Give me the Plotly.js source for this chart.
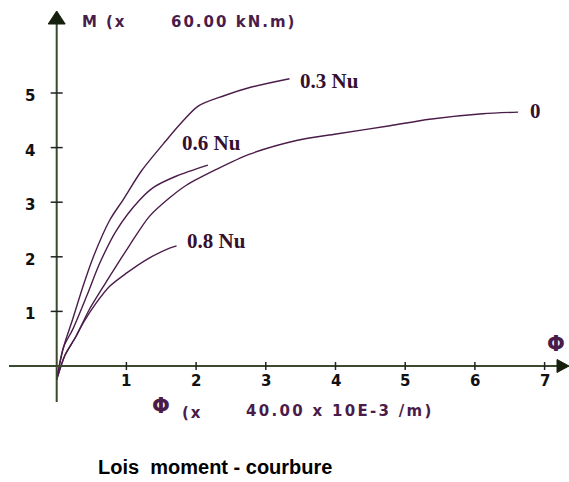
<!DOCTYPE html>
<html><head><meta charset="utf-8">
<script src="https://cdn.plot.ly/plotly-3.0.1.min.js"></script>
<style>html,body{margin:0;padding:0;background:#fff}</style>
</head><body><div id="chart" style="width:569px;height:482px"></div>
<script>
// Data (phi in units of 40e-3 /m, M in units of 60 kN.m)
const phi_03 = [0, 0.09, 0.23, 0.38, 0.52, 0.76, 0.95, 1.22, 1.57, 1.75, 2.03, 2.40, 2.77, 3.34];
const M_03   = [-0.25, 0.31, 0.86, 1.47, 1.98, 2.67, 3.04, 3.58, 4.13, 4.40, 4.76, 4.95, 5.10, 5.26];
const phi_06 = [0, 0.10, 0.23, 0.43, 0.62, 0.86, 1.19, 1.40, 1.72, 2.17];
const M_06   = [-0.25, 0.35, 0.67, 1.28, 1.89, 2.49, 3.04, 3.28, 3.48, 3.68];
const phi_0  = [0, 0.12, 0.28, 0.47, 0.76, 1.05, 1.33, 1.62, 1.86, 2.29, 2.77, 3.44, 4.01, 4.78, 5.35, 6.11, 6.62];
const M_0    = [-0.25, 0.20, 0.55, 1.04, 1.64, 2.22, 2.74, 3.08, 3.31, 3.60, 3.88, 4.13, 4.25, 4.40, 4.52, 4.62, 4.65];
const phi_08 = [0, 0.12, 0.28, 0.38, 0.57, 0.76, 1.00, 1.29, 1.62, 1.72];
const M_08   = [-0.25, 0.20, 0.55, 0.79, 1.16, 1.46, 1.70, 1.95, 2.16, 2.20];
const curveLabels = ["0.3 Nu", "0.6 Nu", "0", "0.8 Nu"];
const xTicks = [1, 2, 3, 4, 5, 6, 7];
const yTicks = [1, 2, 3, 4, 5];

const curveColor = '#4a1c4a';
const axisColor = '#3b4a2c';
const mk = (x, y) => ({x, y, type: 'scatter', mode: 'lines', line: {color: curveColor, width: 1.4, shape: 'spline', smoothing: 0.8}, hoverinfo: 'skip', showlegend: false});
const traces = [mk(phi_03, M_03), mk(phi_06, M_06), mk(phi_0, M_0), mk(phi_08, M_08)];

// pixel scale helpers (origin at px 56.7 / 366; 69.7 px per x unit, 54.6 px per y unit)
const X0 = 56.7, Y0 = 366, PX = 69.7, PY = 54.6;
const xr = [-X0 / PX, (569 - X0) / PX];
const yr = [-(482 - Y0) / PY, Y0 / PY];
const px2x = p => (p - X0) / PX, py2y = p => (Y0 - p) / PY;

const shapes = [];
shapes.push({type: 'line', xref: 'x', yref: 'y', x0: px2x(9), x1: px2x(560), y0: 0, y1: 0, line: {color: axisColor, width: 2}});
shapes.push({type: 'line', xref: 'x', yref: 'y', x0: 0, x1: 0, y0: py2y(402), y1: py2y(20), line: {color: axisColor, width: 2}});
const aCol = '#16200c';
shapes.push({type: 'path', xref: 'x', yref: 'y', path: `M ${px2x(X0 - 8.5)} ${py2y(24)} L 0 ${py2y(11)} L ${px2x(X0 + 8.5)} ${py2y(24)} Z`, fillcolor: aCol, line: {color: aCol, width: 1}});
shapes.push({type: 'path', xref: 'x', yref: 'y', path: `M ${px2x(557)} ${py2y(Y0 - 6.5)} L ${px2x(569)} 0 L ${px2x(557)} ${py2y(Y0 + 6.5)} Z`, fillcolor: aCol, line: {color: aCol, width: 1}});
xTicks.forEach(t => shapes.push({type: 'line', xref: 'x', yref: 'y', x0: t, x1: t, y0: -4 / PY, y1: 4 / PY, line: {color: '#222', width: 1.5}}));
yTicks.forEach(t => shapes.push({type: 'line', xref: 'x', yref: 'y', x0: -6 / PX, x1: 6 / PX, y0: t, y1: t, line: {color: '#222', width: 1.5}}));

const annotations = [];
const tickFont = {family: 'DejaVu Sans', size: 15, color: '#111'};
xTicks.forEach(t => annotations.push({x: t, y: py2y(381), xref: 'x', yref: 'y', text: '<b>' + t + '</b>', showarrow: false, font: tickFont, xanchor: 'center', yanchor: 'middle'}));
yTicks.forEach(t => annotations.push({x: px2x(37), y: t - 3 / PY, xref: 'x', yref: 'y', text: '<b>' + t + '</b>', showarrow: false, font: tickFont, xanchor: 'right', yanchor: 'middle'}));

// curve labels
const lblFont = {family: 'Liberation Serif', size: 21, color: '#35102f'};
const lblPos = [[298, 80.5], [180, 142.5], [528, 111], [185, 241]];
curveLabels.forEach((s, i) => annotations.push({x: px2x(lblPos[i][0]), y: py2y(lblPos[i][1]), xref: 'x', yref: 'y', text: '<b>' + s + '</b>', showarrow: false, font: lblFont, xanchor: 'left', yanchor: 'middle'}));

// axis titles
const axFont = {family: 'DejaVu Sans', size: 15, weight: 'bold', color: '#4a1c4a'};
const sp = (s, ls) => '<span style="letter-spacing:' + ls + 'px;font-weight:bold">' + s + '</span>';
annotations.push({x: px2x(80), y: py2y(22), xref: 'x', yref: 'y', text: sp('M (x', 1.9), showarrow: false, font: axFont, xanchor: 'left', yanchor: 'middle'});
annotations.push({x: px2x(169), y: py2y(22), xref: 'x', yref: 'y', text: sp('60.00 kN.m)', 2.0), showarrow: false, font: axFont, xanchor: 'left', yanchor: 'middle'});
annotations.push({x: px2x(150), y: py2y(406), xref: 'x', yref: 'y', text: '<b>Φ</b>', showarrow: false, font: {family: 'DejaVu Sans', size: 21, color: '#4a1c4a'}, xanchor: 'left', yanchor: 'middle'});
annotations.push({x: px2x(180), y: py2y(413), xref: 'x', yref: 'y', text: sp('(x', 1.9), showarrow: false, font: axFont, xanchor: 'left', yanchor: 'middle'});
annotations.push({x: px2x(244), y: py2y(411), xref: 'x', yref: 'y', text: sp('40.00 x 10E-3 /m)', 2.3), showarrow: false, font: axFont, xanchor: 'left', yanchor: 'middle'});
annotations.push({x: px2x(556), y: py2y(344), xref: 'x', yref: 'y', text: '<b>Φ</b>', showarrow: false, font: {family: 'DejaVu Sans', size: 21, color: '#4a1c4a'}, xanchor: 'center', yanchor: 'middle'});

const layout = {
  width: 569, height: 482,
  margin: {l: 0, r: 0, t: 0, b: 0},
  paper_bgcolor: '#fff', plot_bgcolor: '#fff',
  xaxis: {range: xr, visible: false, fixedrange: true},
  yaxis: {range: yr, visible: false, fixedrange: true},
  title: {text: '<b>Lois  moment - courbure</b>', x: 98 / 569, xanchor: 'left', xref: 'paper', y: 1 - 467 / 482, yanchor: 'middle', yref: 'container', font: {family: 'Liberation Sans', size: 20, color: '#000'}},
  shapes, annotations
};
Plotly.newPlot('chart', traces, layout, {staticPlot: true});
</script></body></html>
